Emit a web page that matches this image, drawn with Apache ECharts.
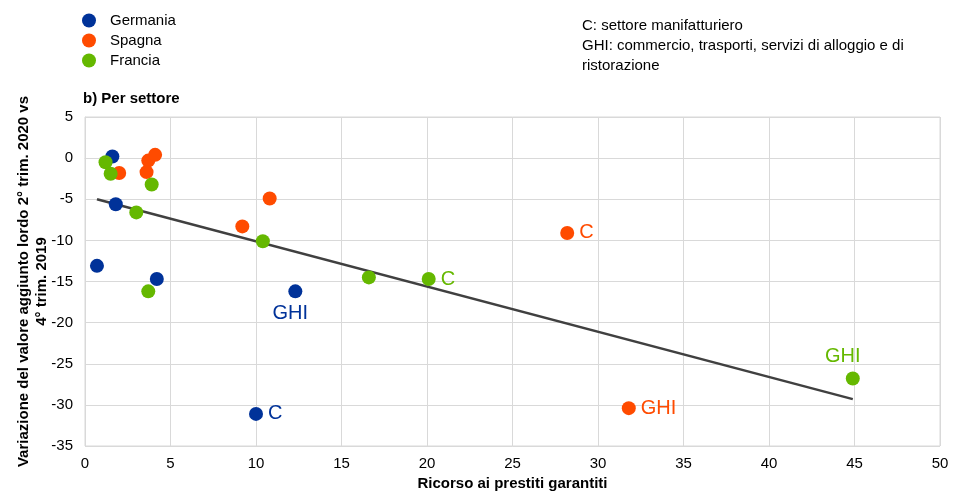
<!DOCTYPE html>
<html>
<head>
<meta charset="utf-8">
<script src="https://cdn.jsdelivr.net/npm/echarts@6/dist/echarts.min.js"></script>
<style>
html, body { margin: 0; padding: 0; background: #fff; }
#chart { width: 957px; height: 492px; }
</style>
</head>
<body>
<div id="chart"></div>
<script>
// values
var germaniaX = [1.6, 1.8, 0.7, 4.2, 12.3, 10.0];
var germaniaY = [0.2, -5.6, -13.1, -14.7, -16.2, -31.1];
var germaniaLab = ['', '', '', '', 'GHI', 'C'];

var spagnaX = [2.0, 3.7, 4.1, 3.6, 9.2, 10.8, 28.2, 31.8];
var spagnaY = [-1.8, -0.3, 0.4, -1.7, -8.3, -4.9, -9.1, -30.4];
var spagnaLab = ['', '', '', '', '', '', 'C', 'GHI'];

var franciaX = [1.2, 1.5, 3.9, 3.0, 10.4, 3.7, 16.6, 20.1, 44.9];
var franciaY = [-0.5, -1.9, -3.2, -6.6, -10.1, -16.2, -14.5, -14.7, -26.8];
var franciaLab = ['', '', '', '', '', '', '', 'C', 'GHI'];

var trendX = [0.7, 44.9];
var trendY = [-5.0, -29.3];

var xTicks = [0, 5, 10, 15, 20, 25, 30, 35, 40, 45, 50];
var yTicks = [5, 0, -5, -10, -15, -20, -25, -30, -35];

var colors = { Germania: '#003299', Spagna: '#ff4b00', Francia: '#65b800' };
var fontFam = '"Liberation Sans", Arial, sans-serif';

function points(xs, ys, labs, color, labelPos) {
	var out = [];
	for (var i = 0; i < xs.length; i++) {
		var item = { value: [xs[i], ys[i]] };
		if (labs[i]) {
			var p = labelPos[labs[i]] || { pos: 'right', off: [0, 0] };
			item.label = {
				show: true,
				formatter: labs[i],
				position: p.pos,
				offset: p.off,
				color: color,
				fontSize: 20,
				fontFamily: fontFam,
				distance: 5
			};
		}
		out.push(item);
	}
	return out;
}

function scatter(name, xs, ys, labs, labelPos) {
	return {
		name: name,
		type: 'scatter',
		symbol: 'circle',
		symbolSize: 14,
		itemStyle: { color: colors[name], opacity: 1 },
		data: points(xs, ys, labs, colors[name], labelPos),
		z: 3
	};
}

var trendData = [];
for (var i = 0; i < trendX.length; i++) trendData.push([trendX[i], trendY[i]]);

var chart = echarts.init(document.getElementById('chart'));
chart.setOption({
	animation: false,
	textStyle: { fontFamily: fontFam },
	legend: {
		orient: 'vertical',
		left: 77,
		top: 8,
		itemGap: 5,
		itemWidth: 14,
		itemHeight: 14,
		icon: 'circle',
		textStyle: { fontSize: 15, color: '#000', fontFamily: fontFam, padding: [0, 0, 0, 9] },
		data: ['Germania', 'Spagna', 'Francia']
	},
	graphic: [
		{
			type: 'text', left: 582, top: 16,
			style: {
				text: 'C: settore manifatturiero\nGHI: commercio, trasporti, servizi di alloggio e di\nristorazione',
				font: '15px ' + fontFam, fill: '#000', lineHeight: 20
			}
		},
		{
			type: 'text', left: 83, top: 91,
			style: { text: 'b) Per settore', font: 'bold 15px ' + fontFam, fill: '#000' }
		}
	],
	grid: {
		left: 85, right: 17, top: 117, bottom: 46,
		outerBoundsMode: 'none',
		show: true, borderColor: '#d9d9d9', borderWidth: 1
	},
	xAxis: {
		type: 'value',
		min: xTicks[0],
		max: xTicks[xTicks.length - 1],
		interval: 5,
		name: 'Ricorso ai prestiti garantiti',
		nameLocation: 'middle',
		nameGap: 30,
		nameMoveOverlap: false,
		nameTextStyle: { fontWeight: 'bold', fontSize: 15, color: '#000' },
		axisLine: { show: true, lineStyle: { color: '#d9d9d9' } },
		axisTick: { show: false },
		axisLabel: { fontSize: 15, color: '#000', margin: 10 },
		splitLine: { lineStyle: { color: '#d9d9d9', width: 1 } }
	},
	yAxis: {
		type: 'value',
		min: yTicks[yTicks.length - 1],
		max: yTicks[0],
		interval: 5,
		name: 'Variazione del valore aggiunto lordo 2° trim. 2020 vs\n4° trim. 2019',
		nameLocation: 'middle',
		nameGap: 34,
		nameMoveOverlap: false,
		nameTextStyle: { fontWeight: 'bold', fontSize: 15, color: '#000', lineHeight: 18 },
		axisLine: { show: true, lineStyle: { color: '#d9d9d9' } },
		axisTick: { show: false },
		axisLabel: { fontSize: 15, color: '#000', margin: 12 },
		splitLine: { lineStyle: { color: '#d9d9d9', width: 1 } }
	},
	series: [
		{
			name: 'trend',
			type: 'line',
			showSymbol: false,
			silent: true,
			lineStyle: { color: '#404040', width: 2.5 },
			data: trendData,
			z: 2
		},
		scatter('Germania', germaniaX, germaniaY, germaniaLab,
			{ GHI: { pos: 'bottom', off: [-5, 0] }, C: { pos: 'right', off: [0, 0] } }),
		scatter('Spagna', spagnaX, spagnaY, spagnaLab,
			{ GHI: { pos: 'right', off: [0, 0] }, C: { pos: 'right', off: [0, 0] } }),
		scatter('Francia', franciaX, franciaY, franciaLab,
			{ GHI: { pos: 'top', off: [-10, 0] }, C: { pos: 'right', off: [0, 0] } })
	]
});
</script>
</body>
</html>
